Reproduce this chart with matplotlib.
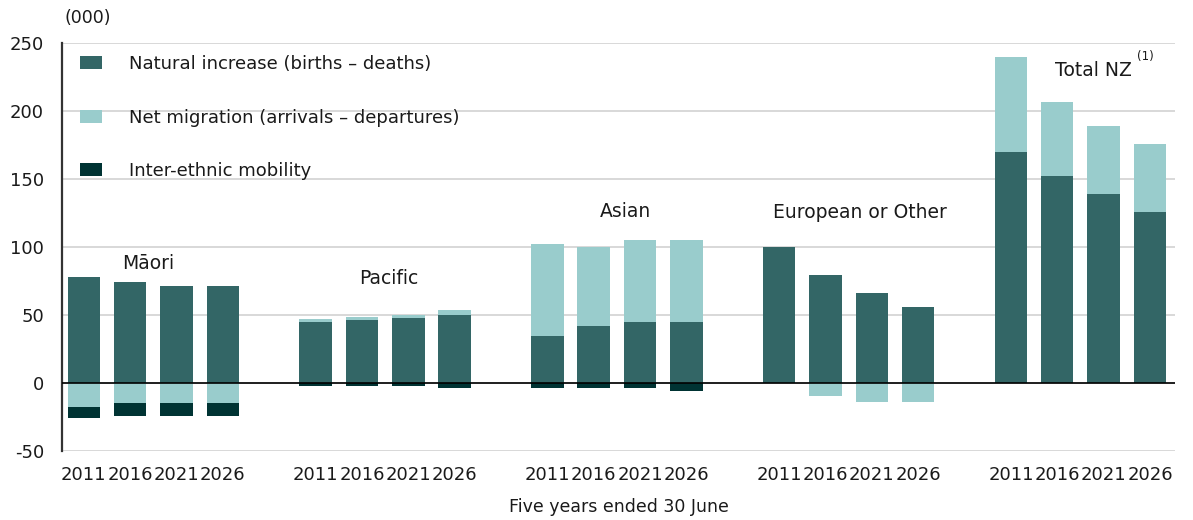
import matplotlib
matplotlib.use("Agg")
import matplotlib.pyplot as plt
from matplotlib.patches import Patch
import numpy as np

groups = ["Māori", "Pacific", "Asian", "European or Other", "Total NZ"]
years = ["2011", "2016", "2021", "2026"]

natural_increase = [78, 74, 71, 71,
                    44.6, 46.3, 47.5, 50.2,
                    34.6, 42, 44.6, 44.6,
                    100.2, 79.7, 66.4, 56.1,
                    169.6, 152, 138.7, 125.5]
net_migration = [-17.4, -14.5, -14.5, -14.5,
                 2.4, 2.5, 2.7, 3.2,
                 67.4, 58.2, 60.3, 60.3,
                 0, -9.8, -14.2, -14.2,
                 70.4, 54.4, 50, 50]
inter_ethnic = [-8.6, -9.8, -9.8, -9.8,
                -2.2, -2.2, -2.2, -3.7,
                -3.9, -3.9, -3.9, -5.6,
                0, 0, 0, 0,
                0, 0, 0, 0]

c_nat = "#336666"
c_mig = "#99cccc"
c_mob = "#003333"
txt = "#1a1a1a"

plt.rcParams["font.family"] = ["DejaVu Sans"]

W, H = 1193, 520
fig = plt.figure(figsize=(W / 100, H / 100), dpi=100)
ax = fig.add_axes([62 / W, 1 - 451 / H, (1175 - 62) / W, (451 - 43) / H])

pos = np.array([g * 5 + k for g in range(len(groups)) for k in range(len(years))], dtype=float)
nat = np.array(natural_increase)
mig = np.array(net_migration)
mob = np.array(inter_ethnic)

bw = 0.7
mig_bottom = np.where(mig > 0, nat, 0)
mob_bottom = np.minimum(mig, 0)

ax.bar(pos, nat, bw, color=c_nat, zorder=2)
ax.bar(pos, mig, bw, bottom=mig_bottom, color=c_mig, zorder=2)
ax.bar(pos, mob, bw, bottom=mob_bottom, color=c_mob, zorder=2)

ax.set_xlim(-0.47, 23.54)
ax.set_ylim(-50, 250)
ax.set_yticks(np.arange(-50, 251, 50))
ax.set_yticklabels([str(v) for v in range(-50, 251, 50)])
ax.yaxis.grid(True, color="#d6d6d6", linewidth=1.3, zorder=0)
ax.set_axisbelow(True)
ax.axhline(0, color="black", linewidth=1.2, zorder=3)

ax.set_xticks(pos)
ax.set_xticklabels(years * len(groups))
ax.tick_params(axis="both", length=0, labelsize=13, colors=txt)
ax.tick_params(axis="x", pad=11)
ax.tick_params(axis="y", pad=13)

for s in ["top", "right", "bottom"]:
    ax.spines[s].set_visible(False)
ax.spines["left"].set_color("#333333")
ax.spines["left"].set_linewidth(1.6)

ax.set_xlabel("Five years ended 30 June", fontsize=12.5, color=txt, labelpad=10)

label_x = [1.40, 6.58, 11.69, 16.74, 21.79]
label_y = [88, 76.5, 126, 125, 229.6]
for name, lx, ly in zip(groups, label_x, label_y):
    ax.text(lx, ly, name, ha="center", va="center", fontsize=13.5, color=txt)
ax.text(22.72, 240, "(1)", ha="left", va="center", fontsize=8.5, color=txt)

fig.text(65 / W, 1 - 18 / H, "(000)", ha="left", va="center", fontsize=12.5, color=txt)

handles = [Patch(facecolor=c_nat), Patch(facecolor=c_mig), Patch(facecolor=c_mob)]
labels = ["Natural increase (births – deaths)",
          "Net migration (arrivals – departures)",
          "Inter-ethnic mobility"]
fig.legend(handles, labels, loc="upper left", bbox_to_anchor=(80 / W, 1 - 55 / H),
           frameon=False, fontsize=13, handlelength=1.2, handleheight=0.72,
           handletextpad=1.5, labelspacing=1.97, borderpad=0, borderaxespad=0,
           labelcolor=txt)

fig.savefig("out.png", dpi=100)
